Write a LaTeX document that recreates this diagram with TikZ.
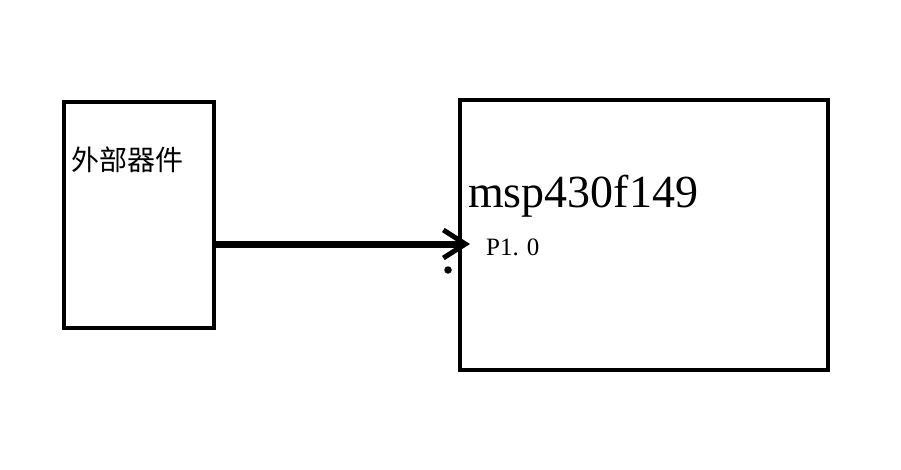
\documentclass[tikz,border=0pt]{standalone}
\usepackage{fontspec}
\setmainfont{Liberation Serif}
\newfontfamily\cjk{Noto Sans CJK SC}
\usetikzlibrary{arrows.meta, positioning}
\tikzset{
  blk/.style={rectangle, draw=black, line width=4.5pt, fill=white, inner sep=0pt},
  ar/.style={-{Straight Barb[length=22pt, width=28pt, line width=5pt]}, line width=7pt, draw=black},
  % texto dentro dos blocos
  ttl/.style={anchor=west, inner sep=0pt, text=black},
  pin/.style={circle, fill=black, inner sep=0pt, minimum size=7.5pt}
}
\begin{document}
\begin{tikzpicture}[x=1pt,y=-1pt]
    \useasboundingbox[fill=white] (0,0) rectangle (901,469);

    % ---- bloco externo ----
    \node[blk, minimum width=150pt, minimum height=226pt] (ext) at (139,215) {};
    \node[ttl, font=\cjk\fontsize{28pt}{30pt}\selectfont] (extlbl) at (71,160) {外部器件};

    % ---- microcontrolador ----
    \node[blk, minimum width=368pt, minimum height=270pt] (mcu) at (644,235) {};
    \node[ttl, font=\fontsize{46pt}{50pt}\selectfont] (mcutxt) at (468,196) {msp430f149};
    \node[ttl, font=\fontsize{25pt}{28pt}\selectfont] (p10) at (486,247) {P1.\hspace{8pt}0};

    % ligacao ate o pino
    \coordinate (p10in) at (470,244);
    \draw[ar] (ext.east |- p10in) -- (p10in);
    \node[pin] (dot) at (448,270) {};
  \end{tikzpicture}
\end{document}
